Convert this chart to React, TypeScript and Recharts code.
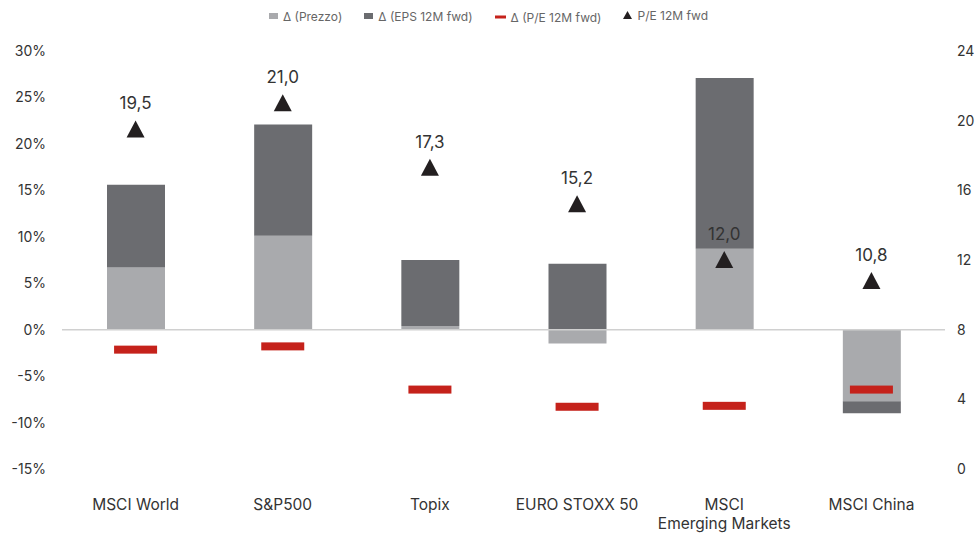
import React from 'react';
import {
  ComposedChart,
  Bar,
  Line,
  XAxis,
  YAxis,
  ReferenceLine,
  LabelList,
} from 'recharts';

// Index names (EM label split on two lines)
const CATEGORIES = [
  'MSCI World',
  'S&P500',
  'Topix',
  'EURO STOXX 50',
  'MSCI\nEmerging Markets',
  'MSCI China',
];

// % change of price
const PRICE_CHANGE = [6.7, 10.1, 0.4, -1.5, 8.7, -7.7];
// % change of forward EPS
const EPS_CHANGE = [8.9, 12.0, 7.1, 7.1, 18.4, -1.3];
// % change of forward P/E
const PE_CHANGE = [-2.15, -1.8, -6.45, -8.3, -8.2, -6.45];
// forward P/E level (right axis)
const PE_LEVEL = [19.5, 21.0, 17.3, 15.2, 12.0, 10.8];

const LEFT_TICKS = [-15, -10, -5, 0, 5, 10, 15, 20, 25, 30];
const RIGHT_TICKS = [0, 4, 8, 12, 16, 20, 24];

const LIGHT = '#a9aaad';
const DARK = '#6b6c70';
const RED = '#c5221b';
const BLACK = '#231f20';
const FONT = 'Inter, "Open Sans", sans-serif';

const chartData = CATEGORIES.map((name, i) => ({
  name,
  price: PRICE_CHANGE[i],
  eps: EPS_CHANGE[i],
  peChange: PE_CHANGE[i],
  pe: PE_LEVEL[i],
}));

const RedDash = (props: any) => {
  const { cx, cy } = props;
  if (cx == null || cy == null) return null;
  return <rect x={cx - 21.5} y={cy - 4} width={43} height={8} fill={RED} />;
};

const Triangle = (props: any) => {
  const { cx, cy } = props;
  if (cx == null || cy == null) return null;
  return (
    <polygon
      points={`${cx},${cy - 9} ${cx + 9},${cy + 8} ${cx - 9},${cy + 8}`}
      fill={BLACK}
    />
  );
};

const CategoryTick = (props: any) => {
  const { x, y, payload } = props;
  const lines = String(payload.value).split('\n');
  return (
    <text
      x={x}
      y={y}
      textAnchor="middle"
      fill="#333"
      fontSize={15.5}
      fontFamily={FONT}
    >
      {lines.map((line, i) => (
        <tspan key={i} x={x} dy={i === 0 ? 0 : 19}>
          {line}
        </tspan>
      ))}
    </text>
  );
};

const LegendBar = () => {
  const item = (icon: React.ReactNode, label: string) => (
    <span style={{ display: 'inline-flex', alignItems: 'center', margin: '0 11px' }}>
      {icon}
      <span style={{ marginLeft: 5 }}>{label}</span>
    </span>
  );
  return (
    <div
      style={{
        position: 'absolute',
        top: 7,
        left: 0,
        width: 977,
        textAlign: 'center',
        fontFamily: FONT,
        fontSize: 12,
        color: '#666',
      }}
    >
      {item(<svg width={9} height={6}><rect width={9} height={6} fill={LIGHT} /></svg>, 'Δ (Prezzo)')}
      {item(<svg width={9} height={6}><rect width={9} height={6} fill={DARK} /></svg>, 'Δ (EPS 12M fwd)')}
      {item(<svg width={11} height={4}><rect width={11} height={3} y={0.5} fill={RED} /></svg>, 'Δ (P/E 12M fwd)')}
      {item(
        <svg width={9} height={8}><polygon points="4.5,0 9,8 0,8" fill={BLACK} /></svg>,
        'P/E 12M fwd',
      )}
    </div>
  );
};

export default function App() {
  return (
    <div style={{ position: 'absolute', left: 0, top: 0, width: 977, height: 533, background: '#fff' }}>
      <LegendBar />
      <ComposedChart
        width={977}
        height={533}
        data={chartData}
        stackOffset="sign"
        barCategoryGap={0}
        margin={{ top: 51, right: 0, bottom: 0, left: 0 }}
      >
        <XAxis
          dataKey="name"
          xAxisId="x"
          axisLine={false}
          tickLine={false}
          interval={0}
          height={64}
          tickMargin={35}
          tick={<CategoryTick />}
        />
        <YAxis
          yAxisId="left"
          orientation="left"
          width={62}
          domain={[-15, 30]}
          ticks={LEFT_TICKS}
          axisLine={false}
          tickLine={false}
          tickMargin={10}
          tickFormatter={(v: number) => `${v}%`}
          tick={{ fontSize: 14, fill: '#333', fontFamily: FONT }}
        />
        <YAxis
          yAxisId="right"
          orientation="right"
          width={32}
          domain={[0, 24]}
          ticks={RIGHT_TICKS}
          axisLine={false}
          tickLine={false}
          tickMargin={6}
          tick={{ fontSize: 14, fill: '#333', fontFamily: FONT, textAnchor: 'start' }}
        />
        <ReferenceLine yAxisId="left" xAxisId="x" y={0} stroke="#d0d0d0" strokeWidth={1.5} />
        <Bar
          dataKey="price"
          name="Δ (Prezzo)"
          stackId="s"
          xAxisId="x"
          yAxisId="left"
          fill={LIGHT}
          barSize={58}
          isAnimationActive={false}
        />
        <Bar
          dataKey="eps"
          name="Δ (EPS 12M fwd)"
          stackId="s"
          xAxisId="x"
          yAxisId="left"
          fill={DARK}
          barSize={58}
          isAnimationActive={false}
        />
        <Line
          dataKey="peChange"
          name="Δ (P/E 12M fwd)"
          xAxisId="x"
          yAxisId="left"
          stroke="none"
          dot={<RedDash />}
          activeDot={false}
          isAnimationActive={false}
        />
        <Line
          dataKey="pe"
          name="P/E 12M fwd"
          xAxisId="x"
          yAxisId="right"
          stroke="none"
          dot={<Triangle />}
          activeDot={false}
          isAnimationActive={false}
        >
          <LabelList
            dataKey="pe"
            position="top"
            offset={20}
            formatter={(v: number) => v.toFixed(1).replace('.', ',')}
            style={{ fontSize: 17, fill: '#333', fontFamily: FONT }}
          />
        </Line>
      </ComposedChart>
    </div>
  );
}
